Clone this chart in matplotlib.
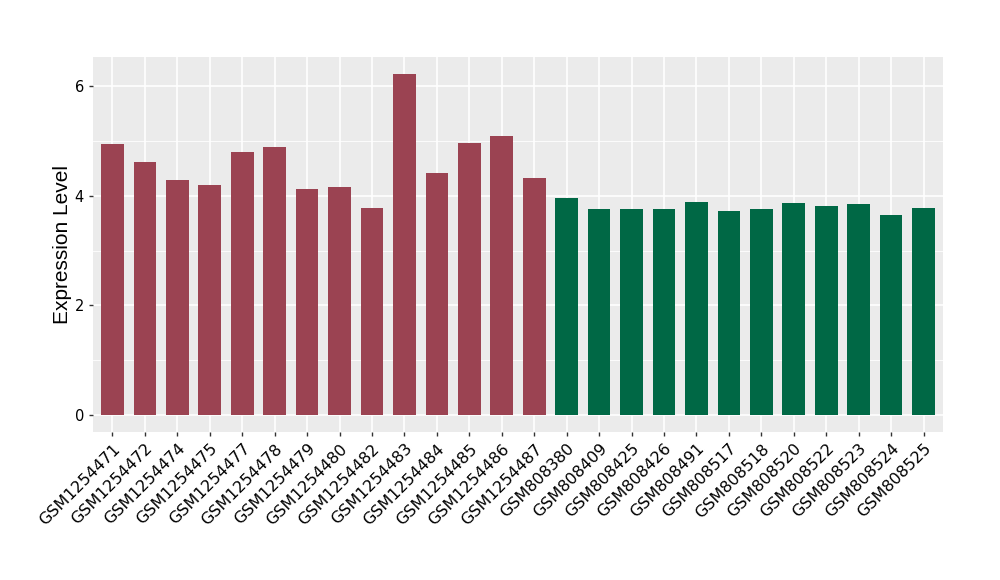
import matplotlib
matplotlib.use("Agg")
import matplotlib.pyplot as plt
import numpy as np

samples = ["GSM1254471", "GSM1254472", "GSM1254474", "GSM1254475", "GSM1254477",
           "GSM1254478", "GSM1254479", "GSM1254480", "GSM1254482", "GSM1254483",
           "GSM1254484", "GSM1254485", "GSM1254486", "GSM1254487",
           "GSM808380", "GSM808409", "GSM808425", "GSM808426", "GSM808491",
           "GSM808517", "GSM808518", "GSM808520", "GSM808522", "GSM808523",
           "GSM808524", "GSM808525"]
values = [4.95, 4.62, 4.29, 4.20, 4.80, 4.89, 4.13, 4.16, 3.78, 6.22,
          4.42, 4.96, 5.09, 4.33,
          3.95, 3.76, 3.76, 3.76, 3.89, 3.73, 3.75, 3.87, 3.82, 3.85, 3.65, 3.78]
groups = ["a"] * 14 + ["b"] * 12
group_colors = {"a": "#9B4352", "b": "#006845"}

fig = plt.figure(figsize=(10, 5.8), dpi=100)
ax = fig.add_axes([0.093, 1 - 0.432 / 0.58, 0.85, 0.375 / 0.58])

x = np.arange(1, len(samples) + 1)
ax.set_facecolor("#EBEBEB")
for y in [1, 3, 5]:
    ax.axhline(y, color="white", lw=0.6, zorder=0)
for y in [0, 2, 4, 6]:
    ax.axhline(y, color="white", lw=1.2, zorder=0)
for xi in x:
    ax.axvline(xi, color="white", lw=1.2, zorder=0)

ax.bar(x, values, width=0.7, color=[group_colors[g] for g in groups], zorder=2)

ax.set_xlim(0.4, len(samples) + 0.6)
ax.set_ylim(-0.311, 6.531)
ax.set_yticks([0, 2, 4, 6])
ax.set_xticks(x)
ax.set_xticklabels(samples, rotation=45, ha="right", va="top",
                   rotation_mode="anchor", fontsize=11.5, color="black")
ax.tick_params(axis="y", labelsize=10.5, colors="black")
ax.tick_params(length=3, color="#333333", width=1)
for s in ax.spines.values():
    s.set_visible(False)
ax.set_ylabel("Expression Level", fontsize=15, family="Liberation Sans", labelpad=2)

fig.savefig("out.png", dpi=100)
